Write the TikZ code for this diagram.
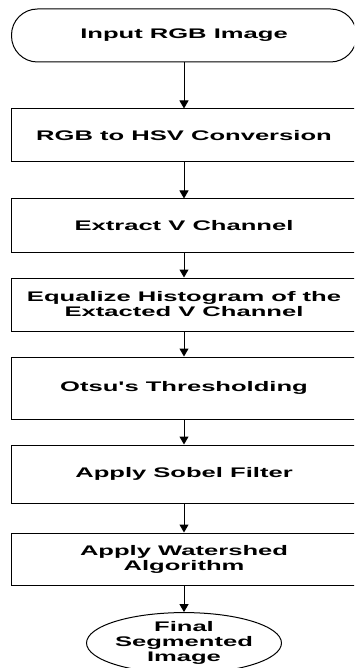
\documentclass[tikz,border=0pt]{standalone}
\usepackage{fontspec}
\newfontfamily\flowfont[FakeStretch=1.84]{Liberation Sans}
\usetikzlibrary{arrows.meta,shapes.geometric}

\begin{document}
\begin{tikzpicture}[x=1pt, y=-1pt,
    every node/.style={font=\flowfont\bfseries\fontsize{13.9}{15}\selectfont, align=center, inner sep=0pt},
    procbox/.style={draw, line width=1pt, minimum width=345pt, minimum height=#1},
    termbox/.style={draw, line width=1pt, rounded corners=26pt, minimum width=345pt, minimum height=53pt},
    endbox/.style={draw, ellipse, line width=1pt, minimum width=160pt, minimum height=57pt},
    flowarrow/.style={-{Triangle[width=9pt,length=8pt]}, line width=1pt}]
        \clip (0,0) rectangle (354,668);
        \node[termbox] (start) at (184,35.5) {Input RGB Image};
        \node[procbox=53pt] (hsv) at (184,135.5) {RGB to HSV Conversion};
        \node[procbox=53pt] (vchan) at (184,225.5) {Extract V Channel};
        \node[procbox=53pt] (equal) at (184,304.5) {Equalize Histogram of the\\Extacted V Channel};
        \node[procbox=62pt] (otsu) at (184,388) {Otsu's Thresholding};
        \node[procbox=58pt] (sobel) at (184,474) {Apply Sobel Filter};
        \node[procbox=52pt] (water) at (184,559) {Apply Watershed\\Algorithm};
        \node[endbox] (final) at (184,643) {Final\\Segmented\\Image};
        \draw[flowarrow] (start) -- (hsv);
        \draw[flowarrow] (hsv) -- (vchan);
        \draw[flowarrow] (vchan) -- (equal);
        \draw[flowarrow] (equal) -- (otsu);
        \draw[flowarrow] (otsu) -- (sobel);
        \draw[flowarrow] (sobel) -- (water);
        \draw[flowarrow] (water) -- (final);
\end{tikzpicture}
\end{document}
